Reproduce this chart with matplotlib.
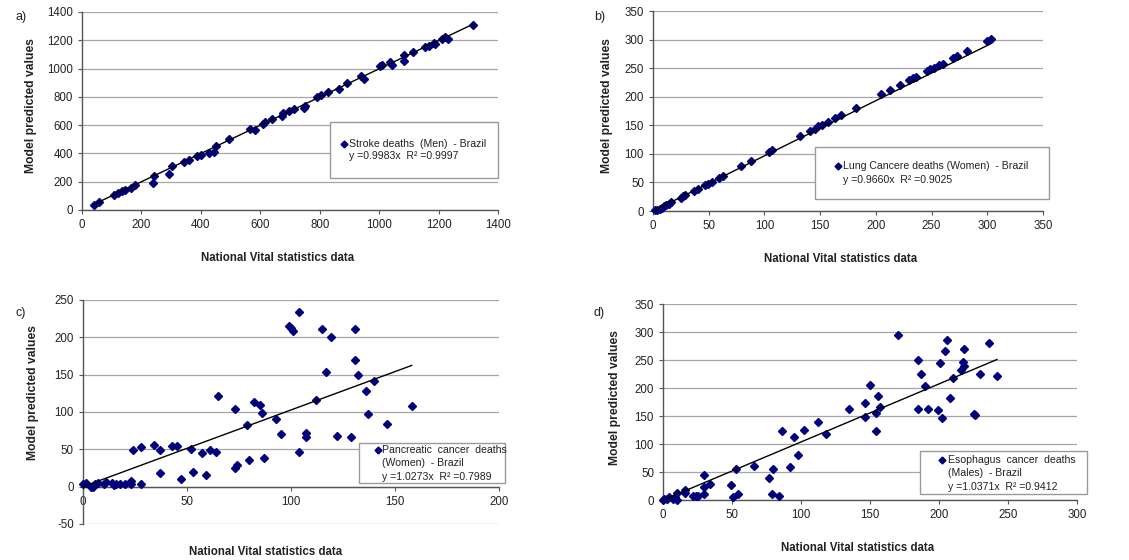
import matplotlib
matplotlib.use('Agg')
import matplotlib.pyplot as plt
from matplotlib.patches import Rectangle

plt.rcParams['font.family'] = ['Liberation Sans', 'DejaVu Sans']
plt.rcParams['axes.unicode_minus'] = False

# a) stroke deaths, men
stroke_x = [39, 56, 107, 120, 135, 146, 165, 179, 241, 239, 292, 303, 344, 359, 387, 400, 426, 445,
            451, 495, 567, 582, 609, 617, 640, 673, 677, 696, 712, 746, 752, 791, 805, 828, 864, 892,
            939, 948, 1004, 1010, 1038, 1043, 1083, 1085, 1113, 1156, 1167, 1184, 1189, 1211, 1221,
            1231, 1316]
stroke_y = [35, 54, 106, 123, 137, 139, 158, 175, 243, 191, 257, 314, 340, 354, 385, 390, 406, 408,
            449, 500, 574, 567, 609, 619, 644, 668, 685, 699, 713, 718, 732, 796, 810, 833, 855, 895,
            947, 925, 1015, 1022, 1046, 1025, 1055, 1093, 1114, 1152, 1161, 1178, 1173, 1206, 1220,
            1209, 1308]

# b) lung cancer deaths, women
lung_x = [2, 4, 6, 8, 10, 12, 14, 16, 25, 27, 29, 37, 40, 47, 49, 53, 59, 63, 79, 88, 104, 107, 132,
          141, 145, 148, 152, 157, 163, 169, 182, 205, 213, 222, 230, 233, 236, 246, 249, 252, 257,
          260, 269, 273, 282, 300, 303]
lung_y = [1, 2, 4, 6, 8, 10, 12, 15, 23, 26, 28, 35, 38, 46, 48, 51, 58, 62, 78, 87, 103, 106, 131,
          140, 144, 148, 151, 156, 162, 168, 181, 204, 212, 221, 229, 232, 235, 245, 248, 250, 256,
          258, 268, 272, 281, 298, 302]

# c) pancreatic cancer deaths, women
panc_x = [0, 1.6, 4, 5, 6, 7, 10, 11, 14, 15, 16, 18, 20, 23, 23, 24, 28, 28, 34, 37, 37, 43, 45, 47,
          52, 53, 57, 59, 61, 64, 65, 73, 74, 73, 79, 80, 82, 85, 86, 87, 93, 95, 99, 100, 101, 104,
          104, 107, 107, 112, 115, 117, 119, 122, 129, 131, 131, 132, 136, 137, 140, 146, 158]
panc_y = [4, 5, 0, 0, 4, 5, 4, 6, 5, 2, 4, 4, 4, 8, 4, 49, 53, 4, 56, 49, 18, 54, 54, 10,
          51, 19, 45, 16, 49, 46, 122, 25, 29, 104, 82, 36, 113, 110, 99, 38, 90, 70, 215, 212, 209, 234,
          46, 72, 66, 116, 211, 154, 201, 68, 67, 170, 211, 149, 128, 97, 142, 84, 108]

# d) esophagus cancer deaths, males
eso_x = [0, 1, 3, 4, 7, 9, 10, 10, 16, 16, 22, 24, 25, 30, 30, 30, 34, 49, 51, 53, 54, 66, 77, 80,
         79, 84, 86, 92, 95, 98, 102, 112, 118, 135, 146, 146, 150, 154, 154, 156, 157, 170, 185, 185,
         187, 190, 192, 199, 201, 202, 204, 206, 208, 210, 216, 217, 218, 218, 225, 226, 230, 236, 242]
eso_y = [0, 1, 2, 5, 2, 6, 13, 0, 18, 13, 7, 8, 7, 45, 24, 10, 29, 26, 6, 55, 10, 61, 40, 56,
         10, 8, 123, 59, 112, 80, 125, 139, 118, 163, 174, 149, 205, 124, 156, 185, 166, 295, 250, 163,
         225, 203, 163, 161, 245, 146, 266, 285, 182, 218, 233, 246, 269, 240, 153, 152, 225, 280, 222]

panels = [
    dict(x=stroke_x, y=stroke_y, slope=0.9983, r2='0.9997', lim=(0, 1400), ylim=(0, 1400),
         ticks=range(0, 1401, 200), yticks=range(0, 1401, 200),
         rect=[0.0726, 0.625, 0.3685, 0.3536], tag='a)', tagpos=(15, 17),
         legend=['Stroke deaths  (Men)  - Brazil'],
         box=(0.596, 0.162, 0.404, 0.282), ly=[0.333, 0.273], lx=(0.63, 0.642),
         xlab=(0.47, -0.21), ylab=(-0.108, 0.525)),
    dict(x=lung_x, y=lung_y, slope=0.9660, r2='0.9025', lim=(0, 350), ylim=(0, 350),
         ticks=range(0, 351, 50), yticks=range(0, 351, 50),
         rect=[0.5784, 0.6232, 0.3454, 0.357], tag='b)', tagpos=(594, 17),
         legend=['Lung Cancere deaths (Women)  - Brazil'],
         box=(0.415, 0.06, 0.6, 0.26), ly=[0.225, 0.155], lx=(0.474, 0.487),
         xlab=(0.48, -0.21), ylab=(-0.103, 0.525)),
    dict(x=panc_x, y=panc_y, slope=1.0273, r2='0.7989', lim=(0, 200), ylim=(-50, 250),
         ticks=range(0, 201, 50), yticks=range(-50, 251, 50),
         rect=[0.0735, 0.0643, 0.3685, 0.4], tag='c)', tagpos=(15, 313),
         legend=['Pancreatic  cancer  deaths', '(Women)  - Brazil'],
         box=(0.663, 0.183, 0.351, 0.179), ly=[0.33, 0.272, 0.21], lx=(0.709, 0.719),
         xlab=(0.44, -0.098), ylab=(-0.106, 0.585)),
    dict(x=eso_x, y=eso_y, slope=1.0371, r2='0.9412', lim=(0, 300), ylim=(0, 350),
         ticks=range(0, 301, 50), yticks=range(0, 351, 50),
         rect=[0.5873, 0.1071, 0.3667, 0.35], tag='d)', tagpos=(594, 313),
         legend=['Esophagus  cancer  deaths', '(Males)  - Brazil'],
         box=(0.621, 0.031, 0.403, 0.219), ly=[0.204, 0.138, 0.066], lx=(0.674, 0.688),
         xlab=(0.47, -0.214), ylab=(-0.101, 0.525)),
]

W, H = 1129, 560
fig = plt.figure(figsize=(W / 100, H / 100), dpi=100)
navy = '#00007a'

for p in panels:
    ax = fig.add_axes(p['rect'])
    ax.plot(p['x'], p['y'], 'D', color=navy, ms=4.2, mec=navy, zorder=3, clip_on=False)
    x0, x1 = min(p['x']), max(p['x'])
    ax.plot([x0, x1], [p['slope'] * x0, p['slope'] * x1], color='black', lw=1, zorder=4)

    ax.set_xlim(p['lim'])
    ax.set_ylim(p['ylim'])
    ax.set_xticks(list(p['ticks']))
    ax.set_yticks(list(p['yticks']))
    ax.yaxis.grid(True, color='#a6a6a6', lw=0.9)
    ax.set_axisbelow(True)
    for s in ['top', 'right']:
        ax.spines[s].set_visible(False)
    for s in ['left', 'bottom']:
        ax.spines[s].set_color('#555555')
        ax.spines[s].set_linewidth(1)
    if p['ylim'][0] < 0:
        ax.spines['bottom'].set_position(('data', 0))
    ax.tick_params(axis='both', labelsize=8.3, length=3, color='#555555', labelcolor='#222222')

    ax.set_xlabel('National Vital statistics data', fontsize=8.3, fontweight='bold', color='#222222')
    ax.set_ylabel('Model predicted values', fontsize=8.7, fontweight='bold', color='#222222')
    ax.xaxis.set_label_coords(*p['xlab'])
    ax.yaxis.set_label_coords(*p['ylab'])

    bx, by, bw, bh = p['box']
    ax.add_patch(Rectangle((bx, by), bw, bh, transform=ax.transAxes, facecolor='white',
                           edgecolor='#9a9a9a', lw=1, clip_on=False, zorder=5))
    mx, tx = p['lx']
    ax.plot([mx], [p['ly'][0]], 'D', color=navy, ms=3.5, transform=ax.transAxes,
            clip_on=False, zorder=6)
    lines = p['legend'] + ['y =%.4fx  R² =%s' % (p['slope'], p['r2'])]
    for txt, yy in zip(lines, p['ly']):
        ax.text(tx, yy, txt, transform=ax.transAxes, fontsize=7.6, va='center', ha='left',
                color='#222222', zorder=6)

    fig.text(p['tagpos'][0] / W, 1 - p['tagpos'][1] / H, p['tag'], fontsize=9,
             va='center', ha='left', color='#222222')

fig.savefig('out.png', dpi=100)
